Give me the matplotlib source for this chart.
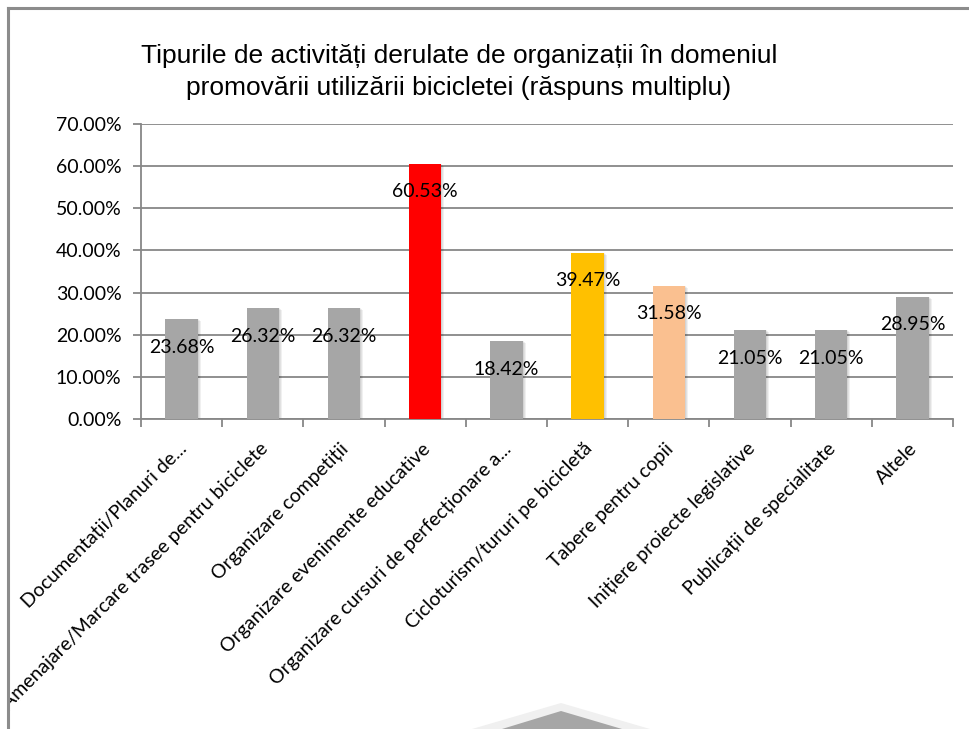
import numpy as np
import matplotlib
matplotlib.use('Agg')
import matplotlib.pyplot as plt
from matplotlib.patches import Polygon, Rectangle
from matplotlib.lines import Line2D
import matplotlib.transforms as mtransforms

# Data
categories = [
    'Documentații/Planuri de...',
    'Amenajare/Marcare trasee pentru biciclete',
    'Organizare competiții',
    'Organizare evenimente educative',
    'Organizare cursuri de perfecționare a...',
    'Cicloturism/tururi pe bicicletă',
    'Tabere pentru copii',
    'Inițiere proiecte legislative',
    'Publicații de specialitate',
    'Altele',
]
values = [0.2368, 0.2632, 0.2632, 0.6053, 0.1842, 0.3947, 0.3158, 0.2105, 0.2105, 0.2895]
bar_colors = ['#a6a6a6', '#a6a6a6', '#a6a6a6', '#ff0000', '#a6a6a6',
              '#ffc000', '#fac090', '#a6a6a6', '#a6a6a6', '#a6a6a6']
yticks = [0.0, 0.1, 0.2, 0.3, 0.4, 0.5, 0.6, 0.7]

title = ('Tipurile de activități derulate de organizații în domeniul\n'
         'promovării utilizării bicicletei (răspuns multiplu)')

W, H = 970, 729
fig = plt.figure(figsize=(W / 100, H / 100), dpi=100)
fig.patch.set_facecolor('white')

ax = fig.add_axes([141 / W, 1 - 419 / H, (953 - 141) / W, (419 - 124) / H])

x = np.arange(len(categories))

# soft shadow behind the bars
for k in range(3):
    sh = mtransforms.ScaledTranslation((1 + k) / 100, -(k) / 100, fig.dpi_scale_trans)
    ax.bar(x, values, width=0.4, color='#000000', alpha=0.06,
           transform=ax.transData + sh, zorder=2)
ax.bar(x, values, width=0.4, color=bar_colors, zorder=3)

for xi, v in zip(x, values):
    ax.annotate(f'{v * 100:.2f}%', (xi, v), xytext=(0, -28 * 0.72),
                textcoords='offset points', ha='center', va='center',
                fontsize=14, family='Lato', color='black', zorder=5)

ax.set_xlim(-0.5, len(categories) - 0.5)
ax.set_ylim(0, 0.7)
ax.set_yticks(yticks)
ax.set_yticklabels([f'{t * 100:.2f}%' for t in yticks], family='Lato', fontsize=14)
ax.yaxis.grid(True, color='#878787', linewidth=1.3)
ax.set_axisbelow(True)

ax.set_xticks(x)
ax.set_xticklabels([])
ax.set_xticks(np.arange(-0.5, len(categories)), minor=True)
ax.tick_params(axis='x', which='major', length=0)
ax.tick_params(axis='x', which='minor', length=6, color='#878787', width=1.3, direction='out')
ax.tick_params(axis='y', length=6, color='#878787', width=1.3, direction='out', pad=8)

for s in ['top', 'right']:
    ax.spines[s].set_visible(False)
for s in ['left', 'bottom']:
    ax.spines[s].set_color('#878787')
    ax.spines[s].set_linewidth(1.3)

# rotated category labels
lab_off = mtransforms.ScaledTranslation(2 / 100, -27 / 100, fig.dpi_scale_trans)
for xi, lab in zip(x, categories):
    ax.text(xi, 0, lab, rotation=45, ha='right', va='center', rotation_mode='anchor',
            transform=ax.get_xaxis_transform() + lab_off,
            fontsize=14, family='Lato', color='black', clip_on=False)

fig.text(459 / W, 1 - 72 / H, title, ha='center', va='center', fontsize=19,
         family='Liberation Sans', linespacing=1.4)

def px(pts):
    return [(a / W, 1 - b / H) for a, b in pts]

# decorative shape at the bottom
fig.patches.append(Polygon(px([(472, 729), (561, 703), (650, 729)]), closed=True,
                           transform=fig.transFigure, facecolor='#f0f0f0',
                           edgecolor='none', zorder=1))
fig.patches.append(Polygon(px([(502, 729), (561, 711), (622, 729)]), closed=True,
                           transform=fig.transFigure, facecolor='#a6a6a6',
                           edgecolor='none', zorder=1))

# frame: white margin outside, grey border
fig.patches.append(Rectangle((0, 0), 8 / W, 1, transform=fig.transFigure,
                             facecolor='white', edgecolor='none', zorder=10))
fig.lines.append(Line2D([8 / W, 8 / W], [0, 1 - 8 / H], transform=fig.transFigure,
                        color='#8c8c8c', linewidth=2.2, zorder=11))
fig.lines.append(Line2D([8 / W, 1], [1 - 8 / H, 1 - 8 / H], transform=fig.transFigure,
                        color='#8c8c8c', linewidth=2.2, zorder=11))

fig.savefig('out.png', dpi=100)
